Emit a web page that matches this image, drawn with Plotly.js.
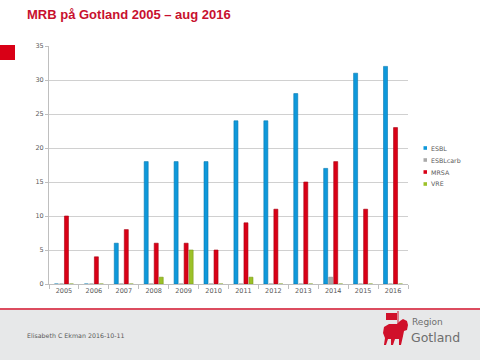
<!DOCTYPE html>
<html>
<head>
<meta charset="utf-8">
<script src="https://cdn.plot.ly/plotly-3.0.1.min.js"></script>
<style>html,body{margin:0;padding:0;background:#fff;}#chart{width:480px;height:360px;}</style>
</head>
<body>
<div id="chart"></div>
<script>
const years = ['2005','2006','2007','2008','2009','2010','2011','2012','2013','2014','2015','2016'];
const esbl     = [0, 0, 6, 18, 18, 18, 24, 24, 28, 17, 31, 32];
const esblcarb = [0, 0, 0, 0, 0, 0, 0, 0, 0, 1, 0, 0];
const mrsa     = [10, 4, 8, 6, 6, 5, 9, 11, 15, 18, 11, 23];
const vre      = [0, 0, 0, 1, 5, 0, 1, 0, 0, 0, 0, 0];
const seriesNames = ['ESBL', 'ESBLcarb', 'MRSA', 'VRE'];
const yTicks = [0, 5, 10, 15, 20, 25, 30, 35];

const colors = ['#0E98DA', '#A9A9A9', '#D90016', '#9CC128'];
const edges  = ['#0878B0', '#8A8A8A', '#A80012', '#7A9A18'];

const L = 49, R = 408, T = 46, B = 284;
const px = x => (x - L) / (R - L);
const py = y => (B - y) / (B - T);

const data = [esbl, esblcarb, mrsa, vre].map((vals, i) => ({
  type: 'bar', x: years, y: vals, name: seriesNames[i],
  marker: {color: colors[i], line: {color: edges[i], width: 0.6}},
  hoverinfo: 'none', showlegend: false
}));

function pathFromPx(pts) {
  return 'M' + pts.map(p => px(p[0]).toFixed(4) + ',' + py(p[1]).toFixed(4)).join(' L') + ' Z';
}

const sheep = [[384,327],[389,324],[397,324],[400,321],[403,319],[407,321],[408,325],[407,330],[404,331],[403,336],[401,345],[399,345],[399,339],[395,339],[393,345],[391,345],[391,339],[388,339],[386,345],[384,345],[385,338],[383,333]];
const flag = [[386,313],[397,313],[397,320],[386,320]];

const shapes = [
  {type:'rect', xref:'paper', yref:'paper', x0:px(-1), x1:px(481), y0:py(310), y1:py(361), fillcolor:'#E7E8E9', line:{width:0}, layer:'below'},
  {type:'line', xref:'paper', yref:'paper', x0:px(-1), x1:px(481), y0:py(309), y1:py(309), line:{color:'#D0102A', width:1.5}},
  {type:'rect', xref:'paper', yref:'paper', x0:px(-1), x1:px(15), y0:py(45), y1:py(60), fillcolor:'#D90016', line:{width:0}},
  {type:'path', xref:'paper', yref:'paper', path:pathFromPx(sheep), fillcolor:'#D0102A', line:{width:0}},
  {type:'path', xref:'paper', yref:'paper', path:pathFromPx(flag), fillcolor:'#D0102A', line:{width:0}},
  {type:'line', xref:'paper', yref:'paper', x0:px(398), x1:px(398), y0:py(311), y1:py(324), line:{color:'#D0102A', width:1}}
];

const annotations = [
  {xref:'paper', yref:'paper', x:px(25), y:py(335), xanchor:'left', yanchor:'middle', showarrow:false,
   text:'Elisabeth C Ekman 2016-10-11', font:{family:'DejaVu Sans', size:6.3, color:'#595959'}},
  {xref:'paper', yref:'paper', x:px(410), y:py(322), xanchor:'left', yanchor:'middle', showarrow:false,
   text:'Region', font:{family:'DejaVu Sans', size:9, color:'#6E6E6E'}},
  {xref:'paper', yref:'paper', x:px(409), y:py(337), xanchor:'left', yanchor:'middle', showarrow:false,
   text:'Gotland', font:{family:'DejaVu Sans', size:12.5, color:'#6E6E6E'}}
];

// manual legend (small squares + text)
seriesNames.forEach((name, i) => {
  const cy = 148 + 12 * i;
  shapes.push({type:'rect', xref:'paper', yref:'paper', x0:px(423.5), x1:px(427), y0:py(cy - 1.8), y1:py(cy + 1.8),
               fillcolor: colors[i], line:{width:0}});
  annotations.push({xref:'paper', yref:'paper', x:px(429), y:py(cy), xanchor:'left', yanchor:'middle', showarrow:false,
                    text:name, font:{family:'DejaVu Sans', size:6.3, color:'#595959'}});
});

const layout = {
  width: 480, height: 360,
  margin: {l: L, r: 480 - R, t: T, b: 360 - B, pad: 0, autoexpand: false},
  paper_bgcolor: '#FFFFFF', plot_bgcolor: '#FFFFFF',
  title: {text: 'MRB på Gotland 2005 – aug 2016', xref: 'container', yref: 'container',
          x: 27/480, xanchor: 'left', y: 1 - 14/360, yanchor: 'middle',
          font: {family: 'Liberation Sans Narrow, Liberation Sans', size: 13, color: '#C8102E', weight: 'bold'}},
  barmode: 'group', bargap: 0.33, bargroupgap: 0.2,
  showlegend: false,
  xaxis: {type: 'category', range: [-0.5, 11.5], tickson: 'boundaries', ticks: 'outside', ticklen: 4,
          tickcolor: '#BFBFBF', showline: true, linecolor: '#BFBFBF', showgrid: false,
          tickfont: {family: 'DejaVu Sans', size: 6.5, color: '#595959'}, fixedrange: true},
  yaxis: {range: [0, 35], tickvals: yTicks, ticktext: yTicks.map(String), ticks: 'outside', ticklen: 3,
          tickcolor: '#BFBFBF', showline: true, linecolor: '#BFBFBF', gridcolor: '#D0D0D0',
          zeroline: false, tickfont: {family: 'DejaVu Sans', size: 6.5, color: '#595959'}, fixedrange: true},
  shapes: shapes, annotations: annotations
};

Plotly.newPlot('chart', data, layout, {staticPlot: true, displayModeBar: false});
</script>
</body>
</html>
